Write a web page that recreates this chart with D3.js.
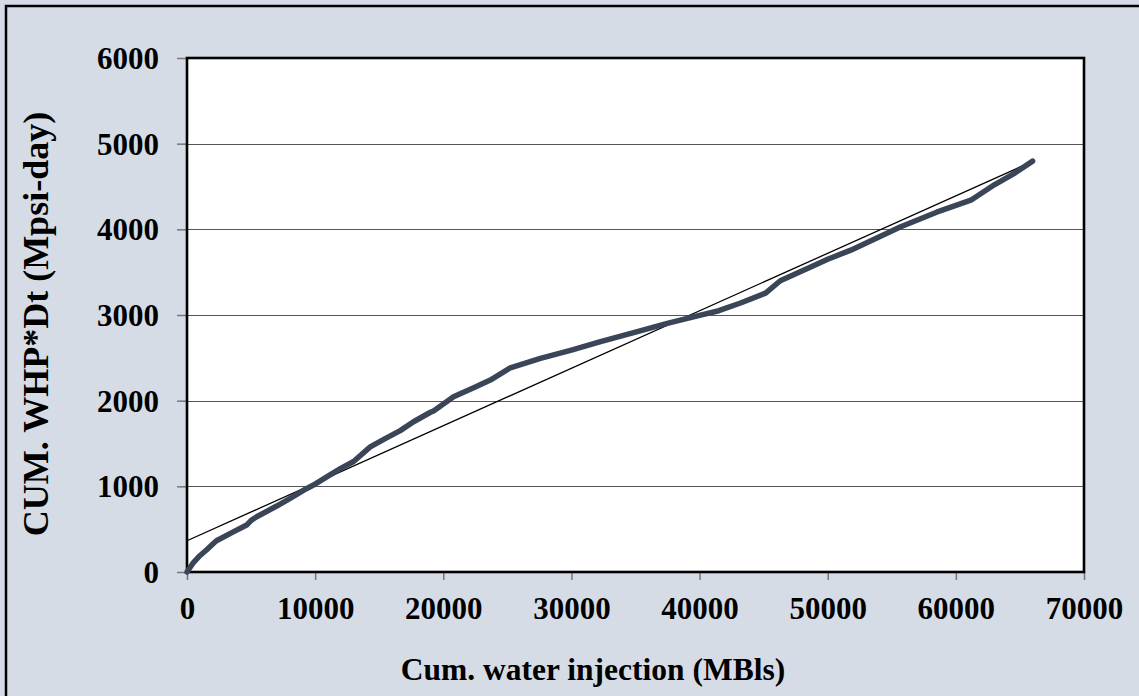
<!DOCTYPE html>
<html>
<head>
<meta charset="utf-8">
<script src="https://cdn.jsdelivr.net/npm/d3@7"></script>
<style>
  html, body { margin: 0; padding: 0; background: #d6dce5; }
  svg { display: block; }
  text { font-family: "Liberation Serif", "Times New Roman", serif; font-weight: bold; fill: #000; }
</style>
</head>
<body>
<svg id="chart" width="1139" height="696"></svg>
<script>
// Cumulative water injection (MBls) vs cumulative WHP*Dt (Mpsi-day)
const cumInjection = [0, 500, 1000, 1540, 2080, 2300, 3500, 4660, 4800, 5050, 5440, 7000, 8050, 9350, 9870,
  11000, 12000, 13000, 14300, 15500, 16640, 17680, 19000, 19240, 20800, 22500, 23670, 25230, 27580,
  30000, 32270, 35000, 37480, 40080, 41500, 43200, 45150, 46300, 48500, 50000, 51800, 55700, 58500,
  61170, 63000, 64530, 65990];
const cumWhpDt = [0, 110, 190, 260, 336, 365, 460, 548, 570, 607, 645, 770, 860, 975, 1015,
  1120, 1210, 1290, 1460, 1560, 1650, 1754, 1865, 1880, 2045, 2160, 2240, 2384, 2493,
  2590, 2688, 2800, 2902, 2999, 3050, 3140, 3255, 3400, 3550, 3650, 3757, 4030, 4200,
  4340, 4520, 4650, 4796];

// Linear trend line end points
const trendX = [0, 66000];
const trendY = [365, 4794];

const xTicks = [0, 10000, 20000, 30000, 40000, 50000, 60000, 70000];
const yTicks = [0, 1000, 2000, 3000, 4000, 5000, 6000];

const svg = d3.select("#chart");
const W = 1139, H = 696;
const plot = { left: 187, right: 1084, top: 58, bottom: 572 };

// outer frame
svg.append("rect").attr("x", 6).attr("y", 6).attr("width", W + 20).attr("height", H + 20)
  .attr("fill", "#d6dce5").attr("stroke", "#000").attr("stroke-width", 2.5);

const x = d3.scaleLinear().domain([0, 70000]).range([plot.left, plot.right]);
const y = d3.scaleLinear().domain([0, 6000]).range([plot.bottom, plot.top]);

svg.append("rect").attr("x", plot.left).attr("y", plot.top)
  .attr("width", plot.right - plot.left).attr("height", plot.bottom - plot.top)
  .attr("fill", "#fff");

// horizontal gridlines
svg.append("g").selectAll("line").data(yTicks.filter(d => d > 0 && d < 6000)).join("line")
  .attr("x1", plot.left).attr("x2", plot.right)
  .attr("y1", d => Math.round(y(d)) + 0.5).attr("y2", d => Math.round(y(d)) + 0.5)
  .attr("stroke", "#555").attr("stroke-width", 1.2);

// axes
const yAxis = d3.axisLeft(y).tickValues(yTicks).tickSize(10).tickPadding(18).tickFormat(d3.format("d"));
const gy = svg.append("g").attr("transform", `translate(${plot.left},0)`).call(yAxis);
const xAxis = d3.axisBottom(x).tickValues(xTicks).tickSize(8).tickPadding(17).tickFormat(d3.format("d"));
const gx = svg.append("g").attr("transform", `translate(0,${plot.bottom})`).call(xAxis);
[gx, gy].forEach(g => {
  g.select(".domain").remove();
  g.selectAll(".tick line").attr("stroke", "#777").attr("stroke-width", 1.5);
  g.selectAll(".tick text").attr("font-size", 31).attr("font-family", "Liberation Serif").attr("font-weight", "bold").attr("fill", "#000");
});
gy.selectAll(".tick text").attr("dy", "0.34em");

// plot border
svg.append("rect").attr("x", plot.left).attr("y", plot.top)
  .attr("width", plot.right - plot.left).attr("height", plot.bottom - plot.top)
  .attr("fill", "none").attr("stroke", "#000").attr("stroke-width", 2.6);

// trend line
svg.append("line")
  .attr("x1", x(trendX[0])).attr("y1", y(trendY[0]))
  .attr("x2", x(trendX[1])).attr("y2", y(trendY[1]))
  .attr("stroke", "#000").attr("stroke-width", 1.3);

// data curve
const pts = cumInjection.map((v, i) => [v, cumWhpDt[i]]);
svg.append("path").datum(pts)
  .attr("fill", "none").attr("stroke", "#3a4558").attr("stroke-width", 5.5)
  .attr("stroke-linejoin", "round").attr("stroke-linecap", "round")
  .attr("d", d3.line().x(d => x(d[0])).y(d => y(d[1])));

// axis titles
svg.append("text").attr("x", 593).attr("y", 680).attr("text-anchor", "middle")
  .attr("font-size", 31.5).text("Cum. water injection (MBls)");
svg.append("text").attr("transform", "translate(48,324) rotate(-90)").attr("text-anchor", "middle")
  .attr("font-size", 36).text("CUM. WHP*Dt (Mpsi-day)");
</script>
</body>
</html>
